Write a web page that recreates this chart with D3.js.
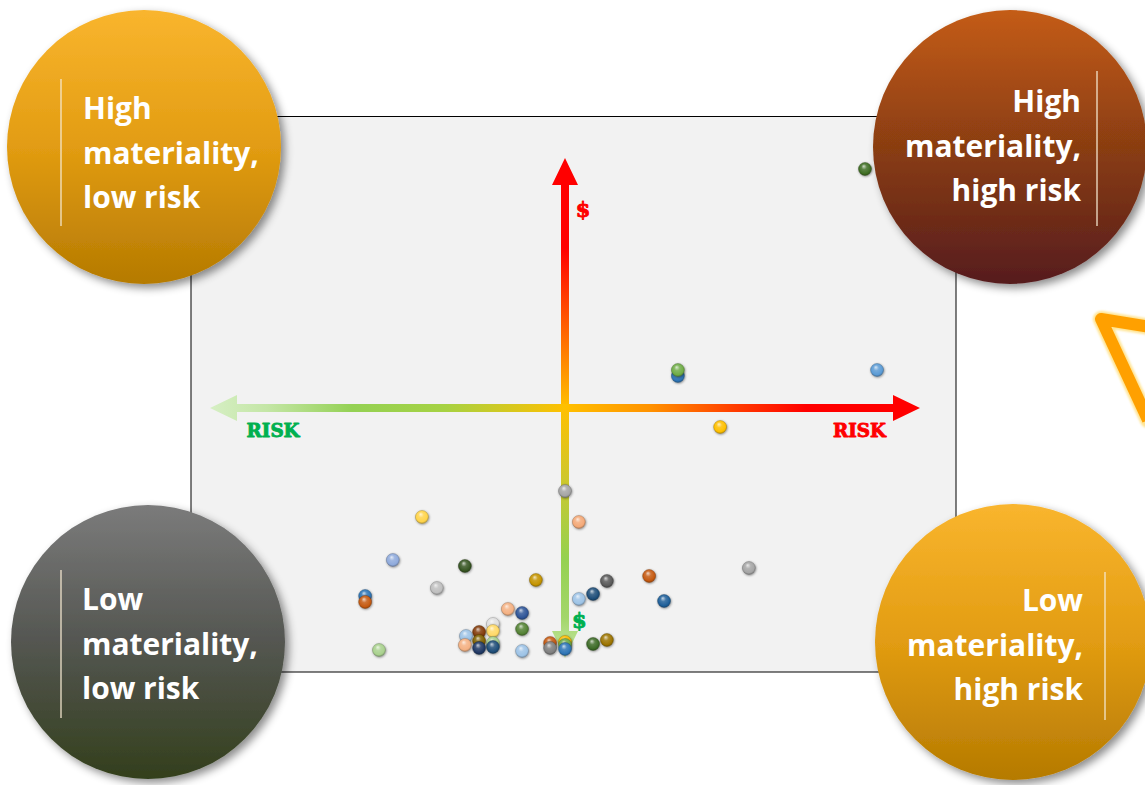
<!DOCTYPE html>
<html><head><meta charset="utf-8">
<script src="https://cdn.jsdelivr.net/npm/d3@7"></script>
<style>html,body{margin:0;padding:0;background:#fff;}svg{display:block;}</style>
</head><body>
<script>
// ---------- data ----------
const issues = ["I01","I02","I03","I04","I05","I06","I07","I08","I09","I10","I11","I12","I13","I14","I15","I16","I17","I18","I19","I20","I21","I22","I23","I24","I25","I26","I27","I28","I29","I30","I31","I32","I33","I34","I35","I36","I37","I38","I39","I40","I41"];
const riskScore = [8.45, 3.18, 3.18, 8.79, 4.37, 0.00, -4.03, 0.39, -4.85, -2.82, 5.18, 2.37, -0.82, 1.18, -3.61, 0.79, -5.63, 0.39, 2.79, -5.63, -1.61, -1.21, -2.03, -1.21, -2.03, -2.42, -2.79, 1.18, -0.42, 0.00, -2.42, -2.03, 0.79, -0.42, 0.00, -2.82, -2.03, -2.42, 0.00, -5.24, -1.21];
const materialityScore = [9.56, 1.28, 1.52, 1.52, -0.76, -3.32, -4.36, -4.56, -6.08, -6.32, -6.40, -6.72, -6.88, -6.92, -7.20, -7.44, -7.52, -7.64, -7.72, -7.76, -8.04, -8.20, -8.64, -8.84, -8.92, -8.96, -9.12, -9.28, -9.40, -9.36, -9.32, -9.40, -9.44, -9.60, -9.48, -9.48, -9.56, -9.60, -9.64, -9.68, -9.72];
const quadrantLabels = [
  ["High", "materiality,", "low risk"],
  ["High", "materiality,", "high risk"],
  ["Low", "materiality,", "low risk"],
  ["Low", "materiality,", "high risk"]
];
const axisLabel = "RISK";
const moneyLabel = "$";
// ---------- styles ----------
const issueColors = ["#3f6e24","#2e75b6","#70ad47","#5b9bd5","#ffc000","#a5a5a5","#ffd44a","#f4a978","#8faadc","#375623","#a5a5a5","#c55a11","#c49400","#595959","#bfbfbf","#1f4e79","#2e75b6","#9dc3e6","#1f5f99","#c55a11","#f4b183","#2f5597","#e0e0e0","#548235","#ffd966","#843c0c","#9dc3e6","#9c7400","#c55a11","#ffc000","#7f6000","#a9d18e","#3d6b27","#7f7f7f","#70ad47","#f4b183","#1f4e79","#203864","#2e75b6","#a9d18e","#9dc3e6"];

const W = 1145, H = 785;
const svg = d3.select("body").append("svg").attr("width", W).attr("height", H);
const defs = svg.append("defs");

// scales
const x = d3.scaleLinear().domain([-10, 10]).range([210, 920]);
const y = d3.scaleLinear().domain([-10, 10]).range([658, 158]);

// filters
const sh = defs.append("filter").attr("id","shadow").attr("x","-30%").attr("y","-30%").attr("width","160%").attr("height","160%");
sh.append("feDropShadow").attr("dx",4).attr("dy",4).attr("stdDeviation",4).attr("flood-color","#000").attr("flood-opacity",0.45);
const glow = defs.append("filter").attr("id","glow").attr("x","-50%").attr("y","-50%").attr("width","200%").attr("height","200%");
glow.append("feGaussianBlur").attr("in","SourceGraphic").attr("stdDeviation",1.2);
const ss = defs.append("filter").attr("id","ballshadow").attr("x","-50%").attr("y","-50%").attr("width","200%").attr("height","200%");
ss.append("feDropShadow").attr("dx",0.6).attr("dy",0.8).attr("stdDeviation",0.8).attr("flood-color","#000").attr("flood-opacity",0.45);

// plot box
svg.append("rect").attr("x",191).attr("y",116.5).attr("width",765).attr("height",555.5)
  .attr("fill","#f2f2f2").attr("stroke","#000").attr("stroke-width",1);

// gradients for arrows
const hg = defs.append("linearGradient").attr("id","hgrad").attr("gradientUnits","userSpaceOnUse")
  .attr("x1", x(-10)).attr("x2", x(10)).attr("y1",0).attr("y2",0);
[[0,"#d6efc4"],[0.08,"#c4e6a6"],[0.2,"#94d154"],[0.33,"#a6d243"],[0.5,"#ffc000"],[0.62,"#ff9200"],[0.74,"#ff3c00"],[0.84,"#ff0000"],[1,"#ff0000"]]
  .forEach(s => hg.append("stop").attr("offset", s[0]).attr("stop-color", s[1]));
const vg = defs.append("linearGradient").attr("id","vgrad").attr("gradientUnits","userSpaceOnUse")
  .attr("x1",0).attr("x2",0).attr("y1", y(10)).attr("y2", y(-10));
[[0,"#ff0000"],[0.18,"#ff0000"],[0.33,"#ff5a00"],[0.5,"#ffc000"],[0.64,"#cfc72c"],[0.8,"#95d150"],[0.92,"#a3d66a"],[1,"#c8e8a8"]]
  .forEach(s => vg.append("stop").attr("offset", s[0]).attr("stop-color", s[1]));

const t = 4, hw = 13, hl = 27;
const cx0 = x(0), cy0 = y(0);
// vertical arrow (double headed)
const vTop = y(10), vBot = y(-10);
svg.append("path").attr("fill","url(#vgrad)").attr("d", d3.line()([
  [cx0, vTop],[cx0+hw, vTop+hl],[cx0+t, vTop+hl],[cx0+t, vBot-hl],[cx0+hw, vBot-hl],[cx0, vBot],
  [cx0-hw, vBot-hl],[cx0-t, vBot-hl],[cx0-t, vTop+hl],[cx0-hw, vTop+hl]]) + "Z");
// horizontal arrow
const hL = x(-10), hR = x(10);
svg.append("path").attr("fill","url(#hgrad)").attr("d", d3.line()([
  [hL, cy0],[hL+hl, cy0-hw],[hL+hl, cy0-t],[hR-hl, cy0-t],[hR-hl, cy0-hw],[hR, cy0],
  [hR-hl, cy0+hw],[hR-hl, cy0+t],[hL+hl, cy0+t],[hL+hl, cy0+hw]]) + "Z");

// axis labels (heavy stencil-like look)
const stencil = "'DejaVu Serif', 'Liberation Serif', serif";
function heavyText(xp, yp, size, color, txt, len) {
  const el = svg.append("text").attr("x", xp).attr("y", yp).attr("font-family", stencil).attr("font-weight","bold")
    .attr("font-size", size).attr("fill", color).attr("stroke", color).attr("stroke-width", 0.9)
    .attr("stroke-linejoin","round").text(txt);
  if (len) el.attr("textLength", len).attr("lengthAdjust","spacingAndGlyphs");
  return el;
}
heavyText(x(-8.97), y(-1.15), 18, "#00b050", axisLabel, 53);
heavyText(x(7.55), y(-1.15), 18, "#ff0000", axisLabel, 53);
heavyText(x(0.3), y(7.65), 21, "#ff0000", moneyLabel);
heavyText(x(0.2), y(-8.8), 21, "#00b050", moneyLabel);

// sphere gradients
const uniq = Array.from(new Set(issueColors));
const gid = c => "ball" + c.replace("#","");
uniq.forEach(c => {
  const g = defs.append("radialGradient").attr("id", gid(c))
    .attr("cx","50%").attr("cy","45%").attr("r","60%").attr("fx","40%").attr("fy","28%");
  g.append("stop").attr("offset","0%").attr("stop-color", d3.interpolateRgb(c,"#ffffff")(0.75));
  g.append("stop").attr("offset","35%").attr("stop-color", d3.interpolateRgb(c,"#ffffff")(0.15));
  g.append("stop").attr("offset","75%").attr("stop-color", c);
  g.append("stop").attr("offset","100%").attr("stop-color", d3.color(c).darker(1.1));
});

const pts = riskScore.map((r,i) => ({id: issues[i], r, m: materialityScore[i], c: issueColors[i]}));
svg.append("g").selectAll("circle").data(pts).join("circle")
  .attr("cx", d => x(d.r)).attr("cy", d => y(d.m)).attr("r", 6.5)
  .attr("fill", d => `url(#${gid(d.c)})`)
  .attr("stroke", d => d3.color(d.c).darker(1.6)).attr("stroke-opacity",0.4).attr("stroke-width",0.9)
  .attr("filter","url(#ballshadow)");

// orange chevron at right edge
svg.append("path").attr("d", d3.line()([[1150,327],[1101,319],[1148,420]]))
  .attr("fill","none").attr("stroke","#ffd24a").attr("stroke-width",16).attr("stroke-linejoin","round").attr("stroke-linecap","round")
  .attr("opacity",0.6).attr("filter","url(#glow)");
svg.append("path").attr("d", d3.line()([[1150,327],[1101,319],[1148,420]]))
  .attr("fill","none").attr("stroke","#ffa000").attr("stroke-width",12).attr("stroke-linejoin","round");

// quadrant bubbles
const grads = {
  orange: [["0%","#f9b52e"],["50%","#e29c12"],["100%","#b57a02"]],
  brown: [["0%","#c45c16"],["50%","#8a3d11"],["100%","#561c1f"]],
  grey: [["0%","#7b7b7b"],["50%","#545651"],["100%","#333f1c"]]
};
Object.entries(grads).forEach(([k, stops]) => {
  const g = defs.append("linearGradient").attr("id","q"+k).attr("x1",0).attr("x2",0).attr("y1",0).attr("y2",1);
  stops.forEach(s => g.append("stop").attr("offset", s[0]).attr("stop-color", s[1]));
});
const bubbles = [
  {cx:144, cy:147, r:137, g:"orange", align:"start", tx:83, lx:61, ly:[79,226], base:119},
  {cx:1010, cy:147, r:137, g:"brown", align:"end", tx:1081, lx:1097, ly:[71,226], base:112},
  {cx:148, cy:642, r:137, g:"grey", align:"start", tx:82, lx:61, ly:[570,718], base:610},
  {cx:1013, cy:642, r:138, g:"orange", align:"end", tx:1083, lx:1105, ly:[572,720], base:611}
];
const font = "'Open Sans', 'Noto Sans', sans-serif";
bubbles.forEach((b, i) => {
  const g = svg.append("g");
  g.append("circle").attr("cx", b.cx).attr("cy", b.cy).attr("r", b.r)
    .attr("fill", `url(#q${b.g})`).attr("filter","url(#shadow)");
  g.append("line").attr("x1", b.lx).attr("x2", b.lx).attr("y1", b.ly[0]).attr("y2", b.ly[1])
    .attr("stroke","#f3e6cf").attr("stroke-opacity",0.85).attr("stroke-width",1.5);
  const tx = g.append("text").attr("font-family", font).attr("font-weight",700).attr("font-size",29)
    .attr("fill","#fff").attr("text-anchor", b.align);
  quadrantLabels[i].forEach((line, j) => {
    tx.append("tspan").attr("x", b.tx).attr("y", b.base + j*44.5).text(line);
  });
  const w = tx.selectAll("tspan").nodes()[1].getComputedTextLength();
  if (w > 0) tx.attr("font-size", 29 * 176 / w);
});
</script>
</body></html>
